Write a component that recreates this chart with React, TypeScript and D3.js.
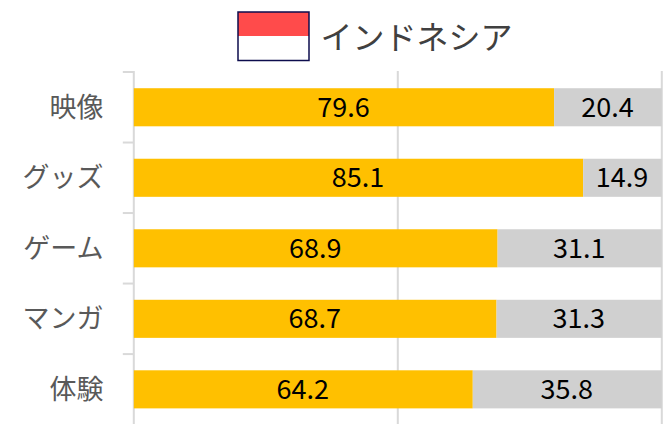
import React, { useEffect, useRef } from "react";
import * as d3 from "d3";

const categories = ["映像", "グッズ", "ゲーム", "マンガ", "体験"];
const yesValues = [79.6, 85.1, 68.9, 68.7, 64.2];
const noValues = [20.4, 14.9, 31.1, 31.3, 35.8];
const gridTicks = [0, 50, 100];
const title = "インドネシア";

const WIDTH = 669;
const HEIGHT = 424;
const FONT = "'Noto Sans CJK JP', 'Noto Sans', sans-serif";

export default function App() {
  const svgRef = useRef<SVGSVGElement>(null);

  useEffect(() => {
    if (!svgRef.current) return;
    const svg = d3.select(svgRef.current);
    svg.selectAll("*").remove();

    const margin = { top: 72, right: 7.2, bottom: -0.6, left: 133.8 };
    const x = d3.scaleLinear().domain([0, 100]).range([margin.left, WIDTH - margin.right]);
    const y = d3
      .scaleBand<string>()
      .domain(categories)
      .range([margin.top, HEIGHT - margin.bottom])
      .paddingInner(0.46)
      .paddingOuter(0.23);

    // vertical grid lines
    svg
      .append("g")
      .selectAll("line")
      .data(gridTicks)
      .join("line")
      .attr("x1", (d) => x(d))
      .attr("x2", (d) => x(d))
      .attr("y1", margin.top - 1)
      .attr("y2", HEIGHT)
      .attr("stroke", "#d9d9d9")
      .attr("stroke-width", 2);

    // category ticks
    const step = y.step();
    svg
      .append("g")
      .selectAll("line")
      .data(categories)
      .join("line")
      .attr("x1", margin.left - 11)
      .attr("x2", margin.left)
      .attr("y1", (d) => (y(d) as number) + y.bandwidth() / 2 - step / 2)
      .attr("y2", (d) => (y(d) as number) + y.bandwidth() / 2 - step / 2)
      .attr("stroke", "#d9d9d9")
      .attr("stroke-width", 2);

    // bars
    const rows = svg
      .append("g")
      .selectAll("g")
      .data(categories)
      .join("g");

    rows
      .append("rect")
      .attr("x", x(0))
      .attr("y", (d) => y(d) as number)
      .attr("width", (_, i) => x(yesValues[i]) - x(0))
      .attr("height", y.bandwidth())
      .attr("fill", "#ffc000");

    rows
      .append("rect")
      .attr("x", (_, i) => x(yesValues[i]))
      .attr("y", (d) => y(d) as number)
      .attr("width", (_, i) => x(yesValues[i] + noValues[i]) - x(yesValues[i]))
      .attr("height", y.bandwidth())
      .attr("fill", "#d0d0d0");

    const labelStyle = (sel: any) =>
      sel
        .attr("y", (d: string) => (y(d) as number) + y.bandwidth() / 2)
        .attr("dy", "0.35em")
        .attr("text-anchor", "middle")
        .attr("font-family", FONT)
        .attr("font-size", 27)
        .attr("fill", "#000000");

    rows
      .append("text")
      .call(labelStyle)
      .attr("x", (_, i) => x(yesValues[i] / 2) - 0.5)
      .text((_, i) => yesValues[i].toFixed(1));

    rows
      .append("text")
      .call(labelStyle)
      .attr("x", (_, i) => x(yesValues[i] + noValues[i] / 2) - 0.5)
      .text((_, i) => noValues[i].toFixed(1));

    // category labels
    svg
      .append("g")
      .selectAll("text")
      .data(categories)
      .join("text")
      .attr("x", 103.5)
      .attr("y", (d) => (y(d) as number) + y.bandwidth() / 2)
      .attr("dy", "0.35em")
      .attr("text-anchor", "end")
      .attr("font-family", FONT)
      .attr("font-size", 27)
      .attr("fill", "#595959")
      .text((d) => d);

    // title with flag
    const flag = svg.append("g").attr("transform", "translate(238,12)");
    flag.append("rect").attr("width", 71).attr("height", 24).attr("fill", "#ff4b4b");
    flag
      .append("rect")
      .attr("width", 71)
      .attr("height", 48.5)
      .attr("fill", "none")
      .attr("stroke", "#0d0d4d")
      .attr("stroke-width", 1.5);

    svg
      .append("text")
      .attr("x", 320.5)
      .attr("y", 38)
      .attr("dy", "0.35em")
      .attr("font-family", FONT)
      .attr("font-size", 32)
      .attr("fill", "#404040")
      .text(title);
  }, []);

  return (
    <svg
      ref={svgRef}
      width={WIDTH}
      height={HEIGHT}
      style={{ position: "absolute", left: 0, top: 0, background: "#fff" }}
    />
  );
}
